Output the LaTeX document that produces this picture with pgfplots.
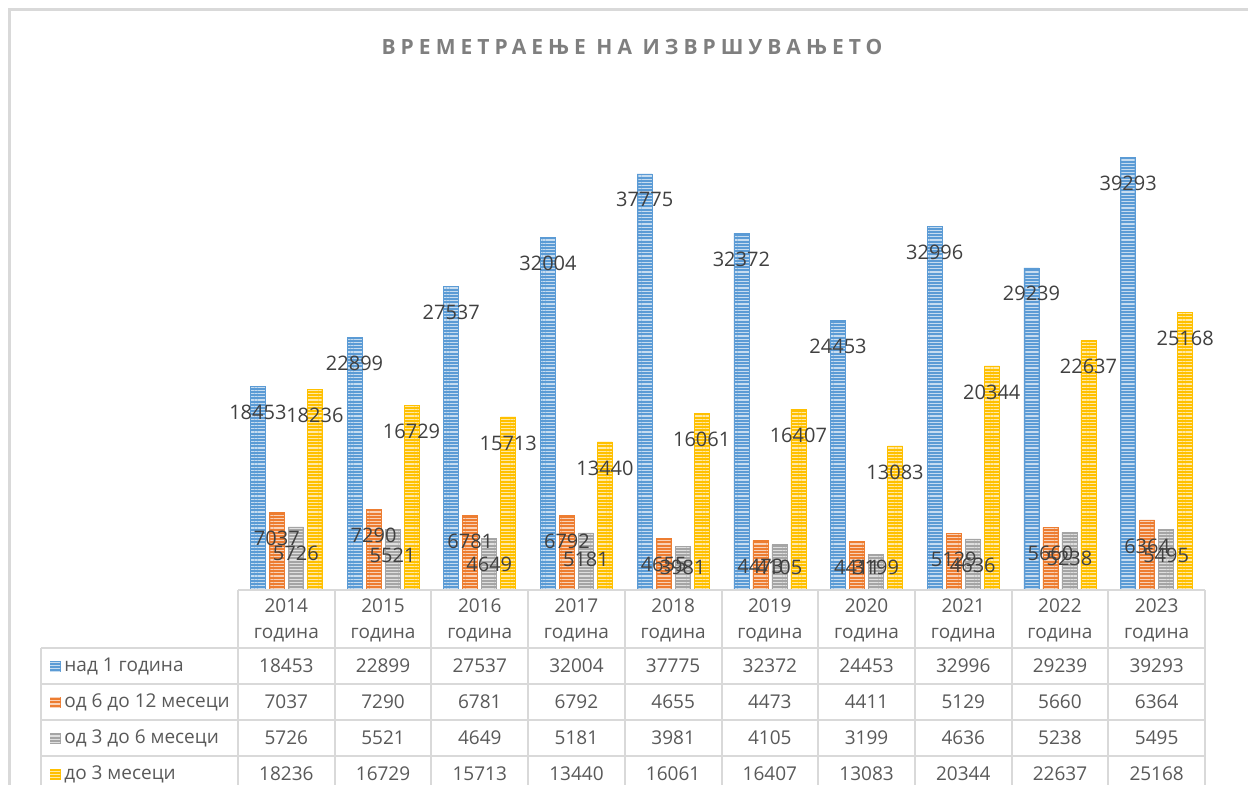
\documentclass[border=0pt]{standalone}
\usepackage{fontspec}
\setmainfont{Open Sans}
\newfontfamily\titlefont[LetterSpace=24]{Open Sans}
\usepackage{pgfplots}
\pgfplotsset{compat=1.18}
\usetikzlibrary{patterns.meta}
\definecolor{cblue}{HTML}{5B9BD5}
\definecolor{corange}{HTML}{ED7D31}
\definecolor{cgray}{HTML}{A5A5A5}
\definecolor{cyellow}{HTML}{FFC000}
\definecolor{gridc}{HTML}{D9D9D9}
\definecolor{txt}{HTML}{595959}
\definecolor{lbl}{HTML}{404040}
\definecolor{ttl}{HTML}{7F7F7F}
\pgfplotsset{mybar/.style={fill=#1, draw=#1, line width=0.3pt,
  postaction={pattern={Lines[angle=0,distance=1.6pt,line width=0.6pt]}, pattern color=#1!35!white}}}
\tikzset{key/.style={fill=#1, draw=#1, line width=0.3pt,
  postaction={pattern={Lines[angle=0,distance=1.6pt,line width=0.6pt]}, pattern color=#1!35!white}}}
\begin{document}
\begin{tikzpicture}
\useasboundingbox (0,0) rectangle (624pt,392pt);
\begin{axis}[
  at={(119pt,97pt)}, anchor=south west,
  scale only axis, width=483.5pt, height=247.9pt,
  axis lines=none, clip=false,
  ymin=0, ymax=45000, xmin=-0.5, xmax=9.5,
  ybar=2pt, bar width=7.5pt,
  visualization depends on={rawy \as \rawy},
  nodes near coords={\pgfmathprintnumber[fixed,precision=0,1000 sep={},assume math mode=true]{\pgfplotspointmeta}},
  every node near coord/.append style={anchor=center,
    /utils/exec={\pgfkeys{/pgf/fpu=true,/pgf/fpu/output format=fixed}\pgfmathsetmacro\lblsh{max(-13,11.5-\rawy*0.005509)}\pgfkeys{/pgf/fpu=false}},
    yshift=\lblsh pt, font=\fontsize{10}{12}\selectfont, text=lbl, inner sep=0pt},
]
\addplot[mybar=cblue] coordinates {(0,18453) (1,22899) (2,27537) (3,32004) (4,37775) (5,32372) (6,24453) (7,32996) (8,29239) (9,39293)};
\addplot[mybar=corange] coordinates {(0,7037) (1,7290) (2,6781) (3,6792) (4,4655) (5,4473) (6,4411) (7,5129) (8,5660) (9,6364)};
\addplot[mybar=cgray] coordinates {(0,5726) (1,5521) (2,4649) (3,5181) (4,3981) (5,4105) (6,3199) (7,4636) (8,5238) (9,5495)};
\addplot[mybar=cyellow] coordinates {(0,18236) (1,16729) (2,15713) (3,13440) (4,16061) (5,16407) (6,13083) (7,20344) (8,22637) (9,25168)};
\end{axis}
\begin{scope}[x=0.5pt,y=-0.5pt,yshift=392pt]
  \draw[gridc, line width=1.2pt] (9.5,800) -- (9.5,9.5) -- (1260,9.5);
  \node[font=\titlefont\bfseries\fontsize{10.5}{12}\selectfont, text=ttl] at (632,47) {ВРЕМЕТРАЕЊЕ НА ИЗВРШУВАЊЕТО};
  \foreach \k in {0,...,10} \draw[gridc, line width=1pt] ({238+96.7*\k},590) -- ({238+96.7*\k},790);
  \draw[gridc, line width=1pt] (238,590) -- (1205,590);
  \foreach \yy in {648,684,720,756} \draw[gridc, line width=1pt] (41,\yy) -- (1205,\yy);
  \draw[gridc, line width=1pt] (41,648) -- (41,790);
  \foreach \yr [count=\i from 0] in {2014,2015,2016,2017,2018,2019,2020,2021,2022,2023}
    \node[font=\fontsize{9.5}{13}\selectfont, text=txt, align=center] at ({286.35+96.7*\i},620) {\yr\\година};
  \foreach \yy/\c/\name/\vals in {
      666/cblue/{над 1 година}/{18453,22899,27537,32004,37775,32372,24453,32996,29239,39293},
      702/corange/{од 6 до 12 месеци}/{7037,7290,6781,6792,4655,4473,4411,5129,5660,6364},
      738/cgray/{од 3 до 6 месеци}/{5726,5521,4649,5181,3981,4105,3199,4636,5238,5495},
      774/cyellow/{до 3 месеци}/{18236,16729,15713,13440,16061,16407,13083,20344,22637,25168}} {
    \draw[key=\c] (50,{\yy-5}) rectangle (60,{\yy+5});
    \node[font=\fontsize{9.5}{11}\selectfont, text=txt, anchor=west, inner sep=0pt] at (64,\yy) {\name};
    \foreach \v [count=\i from 0] in \vals
      \node[font=\fontsize{9.5}{11}\selectfont, text=txt] at ({286.35+96.7*\i},\yy) {\v};
  }
\end{scope}
\end{tikzpicture}
\end{document}
